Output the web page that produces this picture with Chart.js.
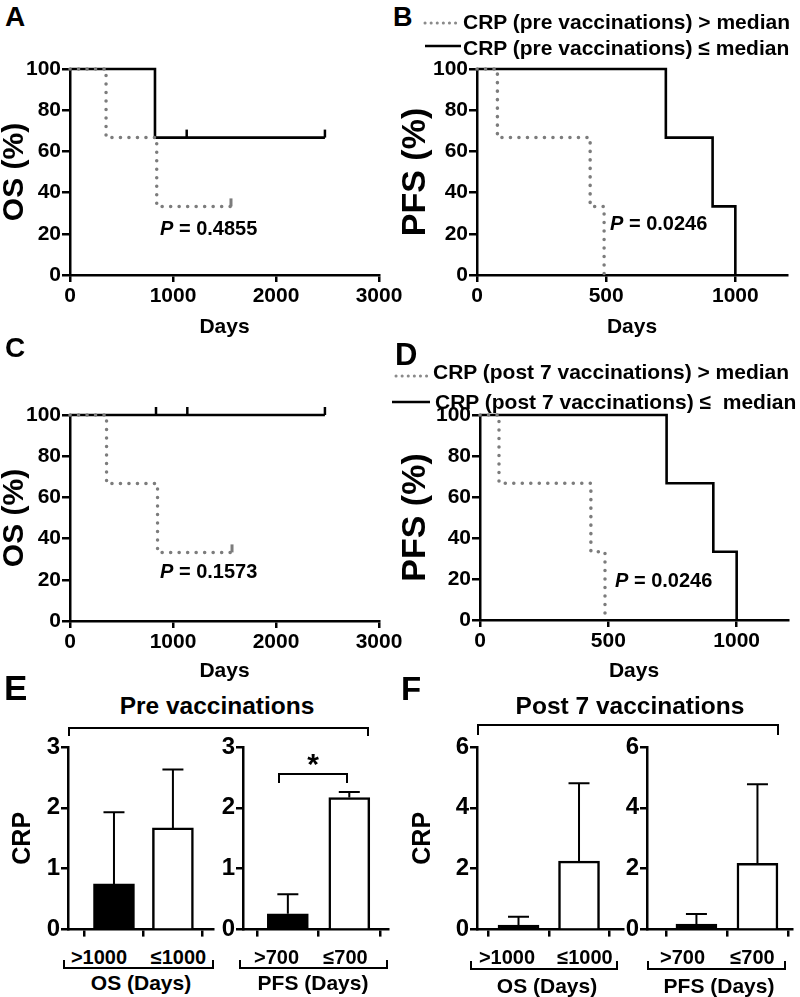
<!DOCTYPE html>
<html><head><meta charset="utf-8">
<script src="https://cdn.jsdelivr.net/npm/chart.js@4.4.1/dist/chart.umd.min.js"></script>
<style>
html,body{margin:0;padding:0;background:#fff;}
body{width:800px;height:997px;position:relative;overflow:hidden;font-family:'Liberation Sans',Arial,Helvetica,sans-serif;font-weight:bold;color:#000;}
canvas{position:absolute;}
.t{position:absolute;white-space:pre;line-height:1;}
.br{position:absolute;border-color:#000;border-style:solid;box-sizing:border-box;}
svg{position:absolute;overflow:visible;}
</style></head><body>
<script>
// ---------- DATA ----------
// Panel A: OS by CRP (pre vaccinations)
const aHighDays = [0, 350, 842, 1563];
const aHighOS = [100, 66.7, 33.3, 33.3];
const aHighCensDays = [1563];
const aHighCensOS = [33.3];
const aLowDays = [0, 825, 2475];
const aLowOS = [100, 66.7, 66.7];
const aLowCensDays = [1133, 2475];
const aLowCensOS = [66.7, 66.7];
// Panel B: PFS by CRP (pre vaccinations)
const bHighDays = [0, 79, 438, 492];
const bHighPFS = [100, 66.7, 33.3, 0];
const bLowDays = [0, 731, 912, 1000];
const bLowPFS = [100, 66.7, 33.3, 0];
// Panel C: OS by CRP (post 7 vaccinations)
const cHighDays = [0, 355, 850, 1573];
const cHighOS = [100, 66.7, 33.3, 33.3];
const cHighCensDays = [1573];
const cHighCensOS = [33.3];
const cLowDays = [0, 2475];
const cLowOS = [100, 100];
const cLowCensDays = [835, 1139, 2475];
const cLowCensOS = [100, 100, 100];
// Panel D: PFS by CRP (post 7 vaccinations)
const dHighDays = [0, 74, 432, 487];
const dHighPFS = [100, 66.7, 33.3, 0];
const dLowDays = [0, 727, 909, 1000];
const dLowPFS = [100, 66.7, 33.3, 0];
// tick labels
const osDayTicks = [0, 1000, 2000, 3000];
const pfsDayTicks = [0, 500, 1000];
const survTicks = [0, 20, 40, 60, 80, 100];
const crpTicksPre = [0, 1, 2, 3];
const crpTicksPost = [0, 2, 4, 6];
// Panels E/F: CRP bars
const osGroups = ['>1000', '\u22641000'];
const pfsGroups = ['>700', '\u2264700'];
const ePreOS = [0.75, 1.67];
const ePreOSErr = [1.18, 0.96];
const ePrePFS = [0.26, 2.17];
const ePrePFSErr = [0.32, 0.09];
const fPostOS = [0.15, 2.25];
const fPostOSErr = [0.27, 2.56];
const fPostPFS = [0.18, 2.18];
const fPostPFSErr = [0.33, 2.60];

// ---------- HELPERS ----------
const FONT = "'Liberation Sans', Arial, Helvetica, sans-serif";
Chart.defaults.font.family = FONT;
Chart.defaults.font.weight = 'bold';
Chart.defaults.color = '#000';
const plain = v => String(v);

function makeCanvas(x, y, w, h) {
  const c = document.createElement('canvas');
  c.width = w; c.height = h;
  c.style.left = x + 'px'; c.style.top = y + 'px';
  c.style.width = w + 'px'; c.style.height = h + 'px';
  document.body.appendChild(c);
  return c;
}
function txt(s, x, y, size, anchor, html) {
  const d = document.createElement('div');
  d.className = 't';
  if (html) d.innerHTML = s; else d.textContent = s;
  d.style.fontSize = size + 'px';
  d.style.left = x + 'px'; d.style.top = y + 'px';
  const tx = anchor === 'l' ? '0' : anchor === 'r' ? '-100%' : '-50%';
  d.style.transform = 'translate(' + tx + ',-50%)';
  document.body.appendChild(d);
  return d;
}
function bracket(x, y, w, h, dir, bw) {
  const d = document.createElement('div');
  d.className = 'br';
  d.style.left = x + 'px'; d.style.top = y + 'px';
  d.style.width = w + 'px'; d.style.height = h + 'px';
  const b = (bw || 2) + 'px';
  d.style.borderWidth = dir === 'down' ? (b + ' ' + b + ' 0 ' + b) : ('0 ' + b + ' ' + b + ' ' + b);
  document.body.appendChild(d);
}
function legendLine(x1, x2, y, dotted) {
  const ns = 'http://www.w3.org/2000/svg';
  const s = document.createElementNS(ns, 'svg');
  s.setAttribute('width', 1); s.setAttribute('height', 1);
  s.style.left = '0px'; s.style.top = '0px';
  const l = document.createElementNS(ns, 'line');
  l.setAttribute('x1', x1); l.setAttribute('x2', x2);
  l.setAttribute('y1', y); l.setAttribute('y2', y);
  if (dotted) {
    l.setAttribute('stroke', '#8a8a8a'); l.setAttribute('stroke-width', '3');
    l.setAttribute('stroke-dasharray', '0.1 6'); l.setAttribute('stroke-linecap', 'round');
  } else {
    l.setAttribute('stroke', '#000'); l.setAttribute('stroke-width', '2.5');
  }
  s.appendChild(l);
  document.body.appendChild(s);
}

const GREY = '#7c7c7c';
function axisCommon(tickLen) {
  return {
    grid: { drawOnChartArea: false, drawTicks: true, tickLength: tickLen, tickColor: '#000', tickWidth: 2.5, color: '#000', lineWidth: 2.5 },
    border: { display: true, color: '#000', width: 2.5 }
  };
}

function kmChart(cfg) {
  const { x: cx, y: cy, w: cw, h: ch } = cfg.canvas;
  const A = cfg.area;
  const canvas = makeCanvas(cx, cy, cw, ch);
  const datasets = [];
  cfg.series.forEach(s => {
    datasets.push({
      type: 'line', data: s.days.map((d, i) => ({ x: d, y: s.surv[i] })), stepped: true,
      borderColor: s.dotted ? GREY : '#000', borderWidth: s.dotted ? 3.5 : 2.6,
      borderDash: s.dotted ? [0.1, 8.4] : [], borderCapStyle: s.dotted ? 'round' : 'butt',
      borderJoinStyle: 'miter', pointRadius: 0, fill: false, clip: false, order: s.dotted ? 0 : 1
    });
    if (s.censDays && s.censDays.length) {
      datasets.push({
        type: 'scatter', data: s.censDays.map((d, i) => ({ x: d, y: s.censSurv[i] })),
        pointStyle: 'dash', rotation: 270, pointRadius: 8, borderColor: s.dotted ? GREY : '#000',
        backgroundColor: 'transparent', borderWidth: s.dotted ? 3 : 2.5, showLine: false, clip: false, order: s.dotted ? 0 : 1
      });
    }
  });
  const xc = axisCommon(7), yc = axisCommon(8);
  new Chart(canvas, {
    type: 'line', data: { datasets },
    options: {
      responsive: false, animation: false, events: [],
      layout: { padding: { left: 0, top: A.T - cy, right: cx + cw - A.R, bottom: 0 } },
      plugins: { legend: { display: false }, tooltip: { enabled: false } },
      scales: {
        x: {
          type: 'linear', min: 0, max: cfg.xMax, ...xc,
          afterBuildTicks: s => { s.ticks = cfg.xTicks.map(v => ({ value: v })); },
          afterFit: s => { s.height = cy + ch - A.B; },
          ticks: { padding: 2, font: { size: 21, weight: 'bold' }, color: '#000', maxRotation: 0, autoSkip: false, callback: plain },
          title: { display: true, text: 'Days', font: { size: 21, weight: 'bold', lineHeight: 1 }, padding: { top: 0, bottom: 0 }, color: '#000' }
        },
        y: {
          type: 'linear', min: 0, max: 100, ...yc,
          afterBuildTicks: s => { s.ticks = survTicks.map(v => ({ value: v })); },
          afterFit: s => { s.width = A.L - cx; },
          ticks: { padding: 1, font: { size: 21, weight: 'bold' }, color: '#000', autoSkip: false, callback: plain },
          title: { display: true, text: cfg.yTitle, font: { size: cfg.yTitleSize, weight: 'bold', lineHeight: 1 }, padding: { top: 0, bottom: 0 }, color: '#000' }
        }
      }
    }
  });
}

const errorBars = {
  id: 'errorBars',
  afterDatasetsDraw(chart) {
    const ctx = chart.ctx, ys = chart.scales.y;
    chart.data.datasets.forEach((ds, di) => {
      if (!ds.errors) return;
      const meta = chart.getDatasetMeta(di);
      meta.data.forEach((bar, i) => {
        const v = ds.data[i].y;
        const top = ys.getPixelForValue(v + ds.errors[i]);
        const base = ys.getPixelForValue(v);
        ctx.save();
        ctx.strokeStyle = '#000'; ctx.lineWidth = 2;
        ctx.beginPath();
        ctx.moveTo(bar.x, base); ctx.lineTo(bar.x, top);
        ctx.moveTo(bar.x - 10.5, top); ctx.lineTo(bar.x + 10.5, top);
        ctx.stroke();
        ctx.restore();
      });
    });
  }
};

function barChart(cfg) {
  const { x: cx, y: cy, w: cw, h: ch } = cfg.canvas;
  const A = cfg.area;
  const canvas = makeCanvas(cx, cy, cw, ch);
  const xc = axisCommon(7), yc = axisCommon(7);
  new Chart(canvas, {
    type: 'bar',
    data: {
      datasets: [{
        data: cfg.values.map((v, i) => ({ x: i, y: v })), errors: cfg.errors,
        backgroundColor: ['#000', '#fff'], borderColor: '#000', borderWidth: 2.5,
        barThickness: 41, clip: false
      }]
    },
    plugins: [errorBars],
    options: {
      responsive: false, animation: false, events: [],
      layout: { padding: { left: 0, top: A.T - cy, right: cx + cw - A.R, bottom: 0 } },
      plugins: { legend: { display: false }, tooltip: { enabled: false } },
      scales: {
        x: {
          type: 'linear', min: cfg.xMin, max: cfg.xMax, offset: false, ...xc,
          afterBuildTicks: s => { s.ticks = cfg.labels.map((l, i) => ({ value: i })); },
          afterFit: s => { s.height = cy + ch - A.B; },
          ticks: { display: false }
        },
        y: {
          type: 'linear', min: 0, max: cfg.yTicks[cfg.yTicks.length - 1], ...yc,
          afterBuildTicks: s => { s.ticks = cfg.yTicks.map(v => ({ value: v })); },
          afterFit: s => { s.width = A.L - cx; },
          ticks: { padding: 1, font: { size: 24, weight: 'bold' }, color: '#000', autoSkip: false, callback: plain },
          title: { display: !!cfg.yTitle, text: cfg.yTitle || '', font: { size: 25, weight: 'bold', lineHeight: 1 }, padding: { top: 0, bottom: 0 }, color: '#000' }
        }
      }
    }
  });
  // category labels (positioned under the bars)
  cfg.labels.forEach((l, i) => txt(l, cfg.labelX[i], 956.5, 20, 'c'));
}

// ---------- KM PANELS ----------
kmChart({ canvas: { x: 0, y: 50, w: 420, h: 288 }, area: { L: 70, T: 69, R: 379, B: 275 },
  xMax: 3000, xTicks: osDayTicks, yTitle: 'OS (%)', yTitleSize: 30,
  series: [
    { days: aLowDays, surv: aLowOS, censDays: aLowCensDays, censSurv: aLowCensOS, dotted: false },
    { days: aHighDays, surv: aHighOS, censDays: aHighCensDays, censSurv: aHighCensOS, dotted: true }
  ] });
kmChart({ canvas: { x: 399, y: 50, w: 401, h: 288 }, area: { L: 477, T: 69, R: 787, B: 275 },
  xMax: 1200, xTicks: pfsDayTicks, yTitle: 'PFS (%)', yTitleSize: 34,
  series: [
    { days: bLowDays, surv: bLowPFS, dotted: false },
    { days: bHighDays, surv: bHighPFS, dotted: true }
  ] });
kmChart({ canvas: { x: 0, y: 390, w: 420, h: 292 }, area: { L: 70, T: 415, R: 379, B: 621 },
  xMax: 3000, xTicks: osDayTicks, yTitle: 'OS (%)', yTitleSize: 30,
  series: [
    { days: cLowDays, surv: cLowOS, censDays: cLowCensDays, censSurv: cLowCensOS, dotted: false },
    { days: cHighDays, surv: cHighOS, censDays: cHighCensDays, censSurv: cHighCensOS, dotted: true }
  ] });
kmChart({ canvas: { x: 399, y: 390, w: 401, h: 292 }, area: { L: 480, T: 415, R: 788, B: 620 },
  xMax: 1200, xTicks: pfsDayTicks, yTitle: 'PFS (%)', yTitleSize: 34,
  series: [
    { days: dLowDays, surv: dLowPFS, dotted: false },
    { days: dHighDays, surv: dHighPFS, dotted: true }
  ] });

// ---------- BAR PANELS ----------
barChart({ canvas: { x: 11, y: 720, w: 212, h: 225 }, area: { L: 68, T: 747, R: 213, B: 934 },
  xMin: -0.78, xMax: 1.68, yTicks: crpTicksPre, yTitle: 'CRP',
  labels: osGroups, values: ePreOS, errors: ePreOSErr, labelX: [99, 178.5] });
barChart({ canvas: { x: 213, y: 720, w: 185, h: 225 }, area: { L: 243, T: 747, R: 388, B: 934 },
  xMin: -0.73, xMax: 1.63, yTicks: crpTicksPre,
  labels: pfsGroups, values: ePrePFS, errors: ePrePFSErr, labelX: [276.5, 345.5] });
barChart({ canvas: { x: 411, y: 720, w: 222, h: 225 }, area: { L: 477, T: 747, R: 623, B: 934 },
  xMin: -0.686, xMax: 1.727, yTicks: crpTicksPost, yTitle: 'CRP',
  labels: osGroups, values: fPostOS, errors: fPostOSErr, labelX: [507, 585] });
barChart({ canvas: { x: 617, y: 720, w: 183, h: 225 }, area: { L: 647, T: 747, R: 792, B: 934 },
  xMin: -0.81, xMax: 1.566, yTicks: crpTicksPost,
  labels: pfsGroups, values: fPostPFS, errors: fPostPFSErr, labelX: [682.5, 752.5] });

// ---------- ANNOTATIONS ----------
txt('A', 5, 17, 28, 'l');
txt('B', 393, 16.5, 27, 'l');
txt('C', 5, 348, 28, 'l');
txt('D', 395, 353.5, 31, 'l');
txt('E', 4, 687, 35, 'l');
txt('F', 401, 688, 33, 'l');

// legends
legendLine(425, 457, 23, true);
txt('CRP (pre vaccinations) > median', 463, 21, 21, 'l');
legendLine(425, 461, 46, false);
txt('CRP (pre vaccinations) \u2264 median', 463, 47, 21, 'l');
legendLine(396, 428, 376, true);
txt('CRP (post 7 vaccinations) > median', 433, 371, 21, 'l');
legendLine(392, 430, 402, false);
txt('CRP (post 7 vaccinations) \u2264  median', 435, 401, 21, 'l');

// P values
txt('<i>P</i> = 0.4855', 160, 227.5, 20, 'l', true);
txt('<i>P</i> = 0.0246', 610, 222.5, 20, 'l', true);
txt('<i>P</i> = 0.1573', 160, 570.5, 20, 'l', true);
txt('<i>P</i> = 0.0246', 615, 579.5, 20, 'l', true);

// E / F titles and brackets
txt('Pre vaccinations', 217, 706, 24.5, 'c');
txt('Post 7 vaccinations', 630, 706, 24.5, 'c');
bracket(68, 727, 301, 9, 'down');
bracket(477, 724, 302, 11, 'down');
bracket(278, 773, 70, 10, 'down', 2.5);
txt('*', 313, 764, 30, 'c');
bracket(63, 960, 151, 9, 'up');
bracket(239, 960, 149, 9, 'up');
bracket(470, 961, 148, 9, 'up');
bracket(647, 961, 139, 9, 'up');
txt('OS (Days)', 141, 982, 21, 'c');
txt('PFS (Days)', 313, 982, 21, 'c');
txt('OS (Days)', 547, 985, 21, 'c');
txt('PFS (Days)', 719, 985, 21, 'c');
</script>
</body></html>
